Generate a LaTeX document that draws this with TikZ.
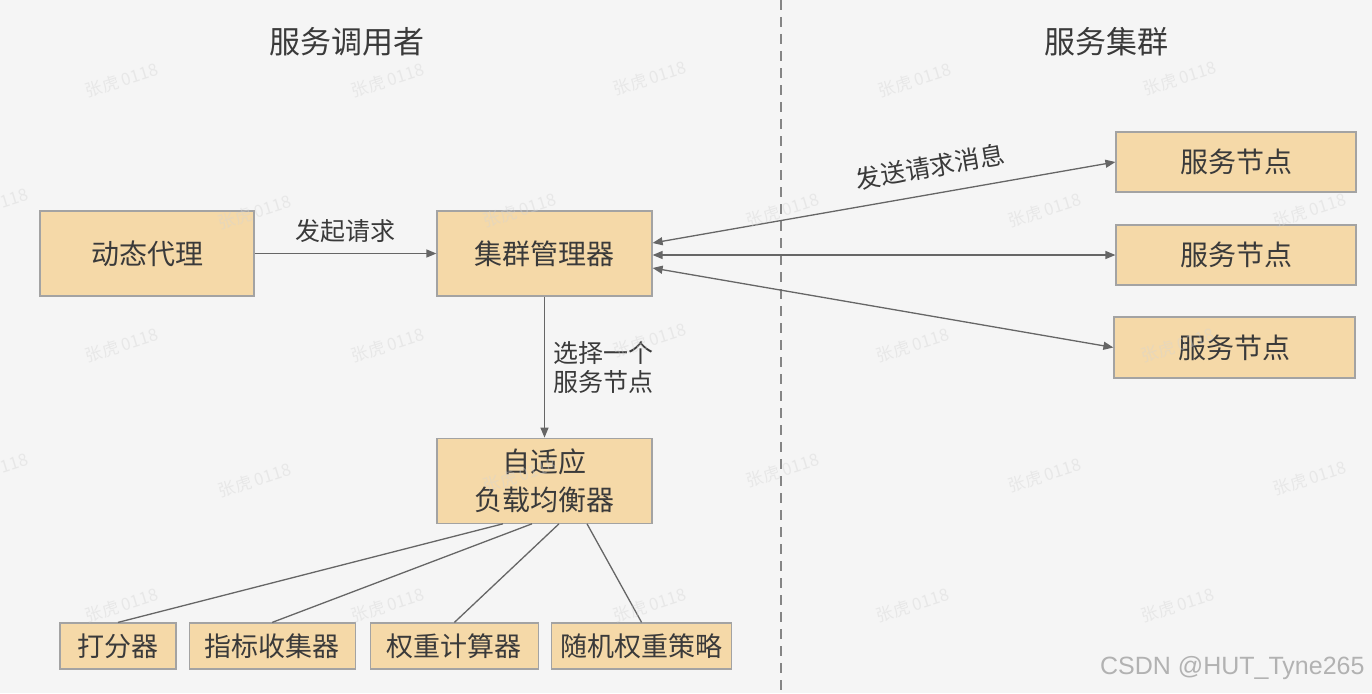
\documentclass[tikz,border=0pt]{standalone}
\usepackage{fontspec}
\setmainfont{Noto Sans CJK SC}
\newfontfamily\csdnfont{Liberation Sans}
\usepackage{tikz}
\usetikzlibrary{positioning,arrows.meta}
\definecolor{paper}{HTML}{F5F5F5}
\definecolor{boxfill}{HTML}{F5D9A8}
\definecolor{boxline}{HTML}{A3A3A3}
\definecolor{ink}{HTML}{3A3A3A}
\definecolor{wire}{HTML}{666666}
\definecolor{wmgray}{HTML}{D4D4D4}
\tikzset{
  arr/.tip={Triangle[length=10pt,width=8pt]},
  box/.style={rectangle,draw=boxline,fill=boxfill,line width=1.2pt,
    align=center,inner sep=2pt,font=\fontsize{28}{38}\selectfont,text=ink},
  small/.style={box,minimum height=46pt,font=\fontsize{27}{32}\selectfont},
  fl/.style={-arr,draw=wire,line width=1.3pt},
  bfl/.style={arr-arr,draw=wire,line width=1.3pt},
  ln/.style={draw=wire,line width=1.3pt},
  lbl/.style={inner sep=0pt,font=\fontsize{25}{29}\selectfont,text=ink},
  ttl/.style={font=\fontsize{31}{36}\selectfont,text=ink},
  wm/.style={font=\fontsize{17}{20}\selectfont,text=wmgray,opacity=0.4,rotate=17},
}
\begin{document}
\begin{tikzpicture}[x=1pt,y=-1pt]
  \fill[paper] (0,0) rectangle (1372,693);
  \useasboundingbox (0,0) rectangle (1372,693);
  % divider
  \coordinate (top) at (781,0);
  \coordinate (bot) at (781,693);
  \draw[wire!80,line width=1.5pt,dash pattern=on 10pt off 7pt] (top) -- (bot);
  \node[ttl] (caller) at (347,42) {服务调用者};
  \node[ttl] (cluster) at (1106,42) {服务集群};
  % caller side
  \node[box,minimum width=214pt,minimum height=85pt] (proxy) at (147,253.5) {动态代理};
  \node[box,minimum width=215pt,minimum height=85pt] (mgr) at (544.5,253.5) {集群管理器};
  \node[box,minimum width=215pt,minimum height=85pt,below=141pt of mgr] (lb) {自适应\\负载均衡器};
  \node[small,minimum width=116pt] (s1) at (118,646) {打分器};
  \node[small,minimum width=166pt,right=12pt of s1] (s2) {指标收集器};
  \node[small,minimum width=168pt,right=14pt of s2] (s3) {权重计算器};
  \node[small,minimum width=180pt,right=12pt of s3] (s4) {随机权重策略};
  % cluster side
  \node[box,minimum width=240pt,minimum height=60pt] (n1) at (1236,162) {服务节点};
  \node[box,minimum width=240pt,minimum height=60pt] (n2) at (1236,255) {服务节点};
  \node[box,minimum width=241pt,minimum height=61pt] (n3) at (1234.5,347.5) {服务节点};
  % connectors
  \draw[fl] (proxy) -- node[lbl,above=10pt] (ask) {发起请求} (mgr);
  \draw[bfl] ([yshift=10.5pt]mgr.east) -- node[lbl,sloped,pos=0.61,above=15pt] (send) {发送请求消息} (n1.west);
  \draw[bfl] ([yshift=-1.5pt]mgr.east) -- (n2.west);
  \draw[bfl] ([yshift=-14.5pt]mgr.east) -- (n3.west);
  \draw[fl] (mgr) -- node[lbl,right=8pt,align=left] (pick) {选择一个\\服务节点} (lb);
  \draw[ln] ([xshift=-41.5pt]lb.south) -- (s1.north);
  \draw[ln] ([xshift=-12.5pt]lb.south) -- (s2.north);
  \draw[ln] ([xshift=14.5pt]lb.south) -- (s3.north);
  \draw[ln] ([xshift=42.5pt]lb.south) -- (s4.north);
  % watermarks
  \foreach \wx/\wy [count=\i] in {122/80,388/80,650/78,915/80,1180/78,
      -8/205,255/212,520/210,783/210,1045/210,1310/210,
      122/345,388/345,650/340,913/345,1178/345,
      -8/470,255/480,520/475,783/470,1045/475,1310/478,
      122/605,388/605,650/605,913/605,1178/605}
    \node[wm] (wm\i) at (\wx,\wy) {张虎 0118};
  \node[anchor=east,font=\csdnfont\fontsize{25}{28}\selectfont,text=black!30] (csdn) at (1368,668) {CSDN @HUT\_Tyne265};
\end{tikzpicture}
\end{document}
